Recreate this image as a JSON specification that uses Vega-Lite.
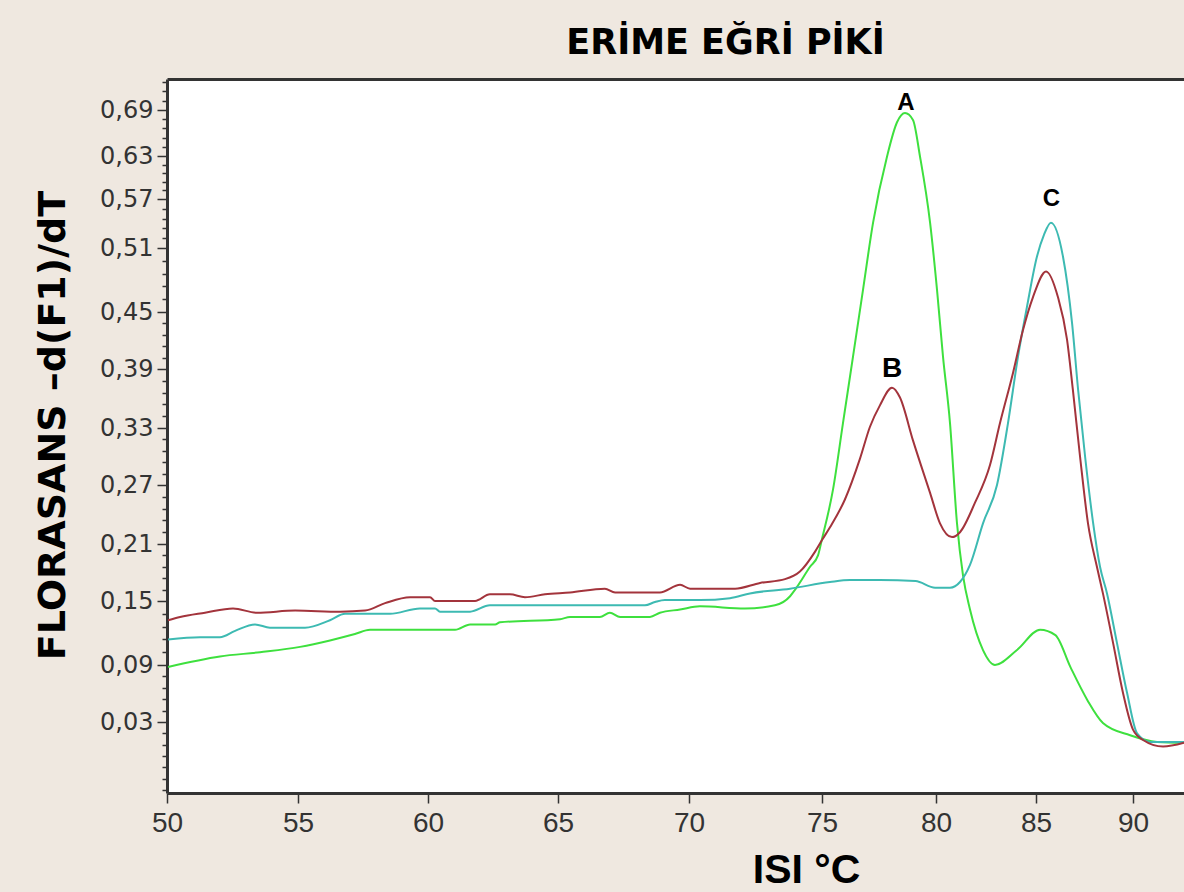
{
 "$schema": "https://vega.github.io/schema/vega-lite/v6.json",
 "width": 1017,
 "height": 714,
 "autosize": {"type": "none"},
 "padding": {"left": 167, "top": 79, "right": 0, "bottom": 99},
 "background": "#EFE8E0",
 "config": {"view": {"fill": "#FFFFFF", "stroke": null}, "font": "Liberation Sans"},
 "title": {"text": "ERİME EĞRİ PİKİ", "font": "DejaVu Sans", "fontSize": 35, "fontWeight": "bold", "color": "#000000", "anchor": "middle", "dx": 50, "dy": 39, "offset": 20, "baseline": "alphabetic"},
 "datasets": {
  "curves": [
   {"s":"A","T":50.04,"v":0.088},{"s":"A","T":52.02,"v":0.098},{"s":"A","T":53.55,"v":0.102},{"s":"A","T":55.08,"v":0.107},{"s":"A","T":56.23,"v":0.113},{"s":"A","T":57.19,"v":0.119},{"s":"A","T":57.77,"v":0.123},{"s":"A","T":59.69,"v":0.123},{"s":"A","T":61.04,"v":0.123},{"s":"A","T":61.62,"v":0.128},{"s":"A","T":62.58,"v":0.128},{"s":"A","T":62.77,"v":0.130},{"s":"A","T":65.08,"v":0.133},{"s":"A","T":65.46,"v":0.135},{"s":"A","T":66.6,"v":0.135},{"s":"A","T":66.98,"v":0.139},{"s":"A","T":67.37,"v":0.135},{"s":"A","T":68.51,"v":0.135},{"s":"A","T":68.89,"v":0.139},{"s":"A","T":69.66,"v":0.142},{"s":"A","T":70.41,"v":0.145},{"s":"A","T":72.1,"v":0.143},{"s":"A","T":73.23,"v":0.146},{"s":"A","T":73.8,"v":0.155},{"s":"A","T":73.99,"v":0.162},{"s":"A","T":74.55,"v":0.186},{"s":"A","T":74.85,"v":0.198},{"s":"A","T":75.0,"v":0.215},{"s":"A","T":75.48,"v":0.265},{"s":"A","T":75.92,"v":0.335},{"s":"A","T":76.36,"v":0.403},{"s":"A","T":76.8,"v":0.471},{"s":"A","T":77.24,"v":0.541},{"s":"A","T":77.85,"v":0.629},{"s":"A","T":78.29,"v":0.674},{"s":"A","T":78.64,"v":0.686},{"s":"A","T":78.99,"v":0.677},{"s":"A","T":79.3,"v":0.629},{"s":"A","T":79.74,"v":0.541},{"s":"A","T":80.05,"v":0.471},{"s":"A","T":80.35,"v":0.403},{"s":"A","T":80.7,"v":0.335},{"s":"A","T":81.05,"v":0.231},{"s":"A","T":81.35,"v":0.177},{"s":"A","T":81.7,"v":0.142},{"s":"A","T":82.35,"v":0.104},{"s":"A","T":82.95,"v":0.090},{"s":"A","T":84.05,"v":0.104},{"s":"A","T":85.21,"v":0.123},{"s":"A","T":86.0,"v":0.118},{"s":"A","T":86.77,"v":0.088},{"s":"A","T":87.65,"v":0.053},{"s":"A","T":88.45,"v":0.029},{"s":"A","T":89.85,"v":0.016},{"s":"A","T":91.24,"v":0.009},{"s":"A","T":92.63,"v":0.008},
   {"s":"C","T":50.04,"v":0.114},{"s":"C","T":51.26,"v":0.116},{"s":"C","T":52.02,"v":0.116},{"s":"C","T":52.6,"v":0.122},{"s":"C","T":53.36,"v":0.128},{"s":"C","T":53.93,"v":0.125},{"s":"C","T":55.27,"v":0.125},{"s":"C","T":56.23,"v":0.132},{"s":"C","T":56.81,"v":0.138},{"s":"C","T":58.54,"v":0.138},{"s":"C","T":59.69,"v":0.143},{"s":"C","T":60.27,"v":0.143},{"s":"C","T":60.46,"v":0.140},{"s":"C","T":61.62,"v":0.140},{"s":"C","T":62.38,"v":0.146},{"s":"C","T":68.32,"v":0.146},{"s":"C","T":68.7,"v":0.149},{"s":"C","T":69.08,"v":0.151},{"s":"C","T":70.41,"v":0.151},{"s":"C","T":71.54,"v":0.153},{"s":"C","T":72.29,"v":0.158},{"s":"C","T":73.8,"v":0.163},{"s":"C","T":75.35,"v":0.170},{"s":"C","T":76.23,"v":0.172},{"s":"C","T":77.54,"v":0.172},{"s":"C","T":79.1,"v":0.171},{"s":"C","T":79.96,"v":0.164},{"s":"C","T":80.7,"v":0.164},{"s":"C","T":81.2,"v":0.170},{"s":"C","T":81.7,"v":0.188},{"s":"C","T":82.35,"v":0.231},{"s":"C","T":83.05,"v":0.270},{"s":"C","T":83.6,"v":0.335},{"s":"C","T":84.1,"v":0.403},{"s":"C","T":84.55,"v":0.455},{"s":"C","T":85.05,"v":0.502},{"s":"C","T":85.41,"v":0.526},{"s":"C","T":85.77,"v":0.541},{"s":"C","T":86.39,"v":0.502},{"s":"C","T":86.86,"v":0.438},{"s":"C","T":87.17,"v":0.369},{"s":"C","T":87.53,"v":0.300},{"s":"C","T":87.94,"v":0.232},{"s":"C","T":88.3,"v":0.186},{"s":"C","T":88.66,"v":0.158},{"s":"C","T":89.17,"v":0.111},{"s":"C","T":89.69,"v":0.061},{"s":"C","T":90.21,"v":0.018},{"s":"C","T":90.88,"v":0.009},{"s":"C","T":92.63,"v":0.009},
   {"s":"B","T":50.04,"v":0.132},{"s":"B","T":50.5,"v":0.135},{"s":"B","T":51.45,"v":0.139},{"s":"B","T":52.52,"v":0.143},{"s":"B","T":53.44,"v":0.139},{"s":"B","T":54.89,"v":0.141},{"s":"B","T":56.62,"v":0.140},{"s":"B","T":57.58,"v":0.141},{"s":"B","T":58.35,"v":0.148},{"s":"B","T":59.31,"v":0.154},{"s":"B","T":60.08,"v":0.154},{"s":"B","T":60.27,"v":0.150},{"s":"B","T":61.81,"v":0.150},{"s":"B","T":62.38,"v":0.157},{"s":"B","T":63.15,"v":0.157},{"s":"B","T":63.73,"v":0.154},{"s":"B","T":64.5,"v":0.157},{"s":"B","T":65.46,"v":0.159},{"s":"B","T":66.79,"v":0.163},{"s":"B","T":67.18,"v":0.159},{"s":"B","T":68.89,"v":0.159},{"s":"B","T":69.66,"v":0.167},{"s":"B","T":70.04,"v":0.163},{"s":"B","T":71.73,"v":0.163},{"s":"B","T":72.67,"v":0.169},{"s":"B","T":73.61,"v":0.173},{"s":"B","T":74.17,"v":0.181},{"s":"B","T":74.74,"v":0.202},{"s":"B","T":75.0,"v":0.214},{"s":"B","T":75.35,"v":0.227},{"s":"B","T":76.0,"v":0.255},{"s":"B","T":76.67,"v":0.298},{"s":"B","T":77.1,"v":0.331},{"s":"B","T":77.54,"v":0.353},{"s":"B","T":78.07,"v":0.371},{"s":"B","T":78.42,"v":0.361},{"s":"B","T":78.99,"v":0.317},{"s":"B","T":79.74,"v":0.262},{"s":"B","T":80.2,"v":0.231},{"s":"B","T":80.8,"v":0.217},{"s":"B","T":81.2,"v":0.222},{"s":"B","T":81.95,"v":0.252},{"s":"B","T":82.7,"v":0.291},{"s":"B","T":83.2,"v":0.335},{"s":"B","T":83.85,"v":0.386},{"s":"B","T":84.35,"v":0.431},{"s":"B","T":84.85,"v":0.464},{"s":"B","T":85.52,"v":0.488},{"s":"B","T":86.13,"v":0.464},{"s":"B","T":86.6,"v":0.421},{"s":"B","T":86.9,"v":0.369},{"s":"B","T":87.27,"v":0.300},{"s":"B","T":87.68,"v":0.231},{"s":"B","T":88.14,"v":0.186},{"s":"B","T":88.45,"v":0.158},{"s":"B","T":88.97,"v":0.111},{"s":"B","T":89.48,"v":0.061},{"s":"B","T":90.0,"v":0.022},{"s":"B","T":90.52,"v":0.011},{"s":"B","T":91.55,"v":0.004},{"s":"B","T":92.63,"v":0.008}
  ],
  "labels": [
   {"label":"A","T":78.68,"v":0.69},
   {"label":"B","T":78.07,"v":0.382},
   {"label":"C","T":85.8,"v":0.561}
  ]
 },
 "layer": [
  {
   "data": {"name": "curves"},
   "mark": {"type": "line", "strokeWidth": 2, "interpolate": "monotone"},
   "encoding": {
    "x": {"field": "T", "type": "quantitative",
     "scale": {"domain": [50,55,60,65,70,75,80,85,90,92.63], "range": [0,131,261,391,522,655,769,869,966,1017], "nice": false, "zero": false},
     "axis": {"values": [50,55,60,65,70,75,80,85,90], "labelFont": "Liberation Sans", "labelFontSize": 28, "labelColor": "#333333", "labelPadding": 6, "tickSize": 10, "tickColor": "#333333", "tickWidth": 1.5, "domainColor": "#333333", "domainWidth": 3, "grid": false, "labelFlush": false, "labelOverlap": false,
      "title": "ISI °C", "titleFont": "Liberation Sans", "titleFontSize": 41, "titleFontWeight": "bold", "titleColor": "#000000", "titleX": 639, "titleY": 89, "titleAlign": "center", "titleBaseline": "alphabetic"}},
    "y": {"field": "v", "type": "quantitative",
     "scale": {"domain": [-0.045,0.03,0.09,0.15,0.21,0.27,0.33,0.39,0.45,0.51,0.57,0.63,0.69,0.73], "range": [714,643,586,522,465,406,349,290,233,169,120,77,31,0], "nice": false, "zero": false},
     "axis": {"values": [-0.042,-0.03,-0.018,-0.006,0.006,0.018,0.03,0.042,0.054,0.066,0.078,0.09,0.102,0.114,0.126,0.138,0.15,0.162,0.174,0.186,0.198,0.21,0.222,0.234,0.246,0.258,0.27,0.282,0.294,0.306,0.318,0.33,0.342,0.354,0.366,0.378,0.39,0.402,0.414,0.426,0.438,0.45,0.462,0.474,0.486,0.498,0.51,0.522,0.534,0.546,0.558,0.57,0.582,0.594,0.606,0.618,0.63,0.642,0.654,0.666,0.678,0.69,0.702,0.714,0.726],
      "labelExpr": "datum.value > 0 && abs((datum.value - 0.03) / 0.06 - round((datum.value - 0.03) / 0.06)) < 0.01 ? replace(format(datum.value, '.2f'), '.', ',') : ''",
      "labelFont": "DejaVu Sans", "labelFontSize": 24, "labelColor": "#333333", "labelPadding": 4, "labelOverlap": false, "labelBound": false,
      "tickSize": {"condition": {"test": "datum.value > 0 && abs((datum.value - 0.03) / 0.06 - round((datum.value - 0.03) / 0.06)) < 0.01", "value": 10}, "value": 5},
      "tickColor": "#333333", "tickWidth": 1.5, "domainColor": "#333333", "domainWidth": 3, "grid": false,
      "title": "FLORASANS –d(F1)/dT", "titleFont": "DejaVu Sans", "titleFontSize": 38, "titleFontWeight": "bold", "titleColor": "#000000", "titleAngle": -90, "titleX": -103, "titleY": 346, "titleAlign": "center", "titleBaseline": "alphabetic"}},
    "color": {"field": "s", "type": "nominal", "scale": {"domain": ["A","B","C"], "range": ["#3EE03E","#A3343C","#3DBAB2"]}, "legend": null}
   }
  },
  {
   "data": {"name": "labels"},
   "mark": {"type": "text", "fontWeight": "bold", "font": "Liberation Sans", "baseline": "alphabetic", "align": "center", "color": "#000000"},
   "encoding": {
    "x": {"field": "T", "type": "quantitative", "axis": {"orient": "top", "labels": false, "ticks": false, "title": null, "domainColor": "#333333", "domainWidth": 3, "grid": false}},
    "y": {"field": "v", "type": "quantitative", "axis": null},
    "text": {"field": "label"},
    "size": {"condition": {"test": "datum.label === 'B'", "value": 28}, "value": 24}
   }
  }
 ],
 "resolve": {"axis": {"x": "independent", "y": "independent"}}
}
